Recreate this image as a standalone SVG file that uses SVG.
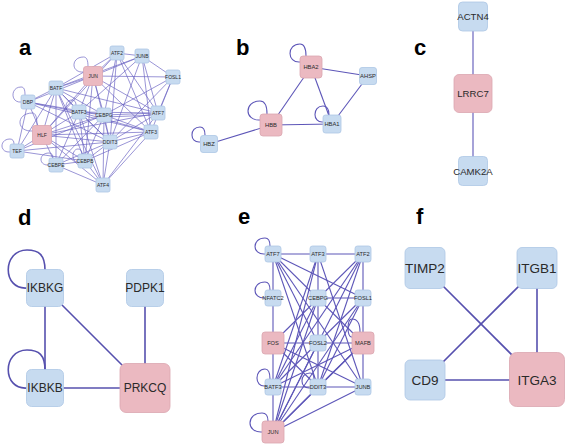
<svg xmlns="http://www.w3.org/2000/svg" width="567" height="445" viewBox="0 0 567 445">
<style>
.nb{fill:#c7dbf0;stroke:#adc6e4;stroke-width:0.8}
.np{fill:#ebb9c1;stroke:#dba6b0;stroke-width:0.8}
.ea line,.ea path{stroke:#6a62c2;stroke-width:0.8;fill:none;stroke-opacity:0.85}
.eb line,.eb path{stroke:#5d56b8;stroke-width:1.1;fill:none}
.ed line,.ed path{stroke:#5650ae;stroke-width:1.6;fill:none}
text{font-family:"Liberation Sans",Arial,sans-serif;fill:#2a2a2a;text-anchor:middle}
.lab{font-weight:bold;font-size:22px;fill:#000;text-anchor:start}
.ta{font-size:5px}
.tb{font-size:5.8px}
.tc{font-size:9.6px}
.td{font-size:12px}
.te{font-size:5.7px}
.tf{font-size:13.5px}
</style>
<text class="lab" x="19" y="55">a</text>
<text class="lab" x="236" y="55">b</text>
<text class="lab" x="414" y="55">c</text>
<text class="lab" x="18" y="225">d</text>
<text class="lab" x="238" y="224">e</text>
<text class="lab" x="416" y="224">f</text>
<g id="connectors">
<g class="ea" id="edges-a">
<line x1="93" y1="76" x2="117" y2="53"/><line x1="93" y1="76" x2="142" y2="56"/><line x1="93" y1="76" x2="173" y2="77"/><line x1="93" y1="76" x2="56" y2="88"/><line x1="93" y1="76" x2="28" y2="102"/><line x1="93" y1="76" x2="42" y2="135"/><line x1="93" y1="76" x2="158" y2="113"/><line x1="93" y1="76" x2="151" y2="132"/><line x1="93" y1="76" x2="110" y2="142"/><line x1="93" y1="76" x2="104" y2="115"/><line x1="93" y1="76" x2="79" y2="112"/><line x1="93" y1="76" x2="85" y2="161"/>
<line x1="117" y1="53" x2="142" y2="56"/><line x1="117" y1="53" x2="158" y2="113"/><line x1="117" y1="53" x2="151" y2="132"/><line x1="117" y1="53" x2="110" y2="142"/><line x1="117" y1="53" x2="56" y2="88"/><line x1="117" y1="53" x2="104" y2="115"/><line x1="117" y1="53" x2="42" y2="135"/>
<line x1="142" y1="56" x2="173" y2="77"/><line x1="142" y1="56" x2="158" y2="113"/><line x1="142" y1="56" x2="151" y2="132"/><line x1="142" y1="56" x2="110" y2="142"/><line x1="142" y1="56" x2="56" y2="88"/><line x1="142" y1="56" x2="79" y2="112"/>
<line x1="173" y1="77" x2="151" y2="132"/><line x1="173" y1="77" x2="110" y2="142"/><line x1="173" y1="77" x2="104" y2="115"/><line x1="173" y1="77" x2="158" y2="113"/>
<line x1="56" y1="88" x2="28" y2="102"/><line x1="56" y1="88" x2="42" y2="135"/><line x1="56" y1="88" x2="17" y2="151"/><line x1="56" y1="88" x2="79" y2="112"/><line x1="56" y1="88" x2="104" y2="115"/><line x1="56" y1="88" x2="158" y2="113"/><line x1="56" y1="88" x2="110" y2="142"/><line x1="56" y1="88" x2="56" y2="165"/><line x1="56" y1="88" x2="85" y2="161"/><line x1="56" y1="88" x2="103" y2="185"/>
<line x1="28" y1="102" x2="42" y2="135"/><line x1="28" y1="102" x2="17" y2="151"/><line x1="28" y1="102" x2="79" y2="112"/><line x1="28" y1="102" x2="104" y2="115"/><line x1="28" y1="102" x2="110" y2="142"/><line x1="28" y1="102" x2="151" y2="132"/>
<line x1="79" y1="112" x2="104" y2="115"/><line x1="79" y1="112" x2="158" y2="113"/><line x1="79" y1="112" x2="42" y2="135"/><line x1="79" y1="112" x2="110" y2="142"/><line x1="79" y1="112" x2="56" y2="165"/><line x1="79" y1="112" x2="85" y2="161"/><line x1="79" y1="112" x2="103" y2="185"/><line x1="79" y1="112" x2="151" y2="132"/>
<line x1="104" y1="115" x2="158" y2="113"/><line x1="104" y1="117" x2="158" y2="115"/><line x1="104" y1="115" x2="151" y2="132"/><line x1="104" y1="115" x2="110" y2="142"/><line x1="104" y1="115" x2="42" y2="135"/><line x1="104" y1="115" x2="56" y2="165"/><line x1="104" y1="115" x2="85" y2="161"/><line x1="104" y1="115" x2="103" y2="185"/><line x1="104" y1="115" x2="17" y2="151"/>
<line x1="158" y1="113" x2="110" y2="142"/><line x1="158" y1="113" x2="103" y2="185"/><line x1="158" y1="113" x2="42" y2="135"/>
<line x1="151" y1="132" x2="110" y2="142"/><line x1="151" y1="132" x2="103" y2="185"/><line x1="151" y1="132" x2="42" y2="135"/><line x1="151" y1="132" x2="85" y2="161"/>
<line x1="42" y1="135" x2="17" y2="151"/><line x1="42" y1="135" x2="110" y2="142"/><line x1="42" y1="135" x2="56" y2="165"/><line x1="42" y1="135" x2="85" y2="161"/><line x1="42" y1="135" x2="103" y2="185"/>
<line x1="110" y1="142" x2="17" y2="151"/><line x1="110" y1="142" x2="56" y2="165"/><line x1="110" y1="142" x2="85" y2="161"/><line x1="110" y1="142" x2="103" y2="185"/>
<line x1="56" y1="165" x2="103" y2="185"/><line x1="85" y1="161" x2="103" y2="185"/><line x1="56" y1="165" x2="85" y2="161"/><line x1="17" y1="151" x2="85" y2="161"/>
<path d="M83.5,72 C70.8,73 70.8,57 83.5,57 C86.6,57 88,60 88,66.5"/>
<path d="M21,102 C10.3,103 10.3,87 21,87 C23.8,87 25,89 25,95"/>
<path d="M32.5,131 C15.8,132 15.8,113 32.5,113 C35.6,113 37,117 37,125.5"/>
<path d="M10,152 C-0.7,153 -0.7,139 10,139 C12.8,139 14,141 14,144"/>
<path d="M49,165 C38.3,166 38.3,153 49,153 C51.8,153 53,155 53,158"/>
<path d="M78,162 C71.3,163 71.3,149 78,149 C80.8,149 82,151 82,154"/>
<path d="M72,112 C64,113 64,100 72,100 C74.8,100 76,102 76,105"/>
</g>
<g class="eb" id="edges-b">
<line x1="311" y1="67" x2="368" y2="76"/>
<line x1="311" y1="67" x2="271" y2="125"/>
<line x1="311" y1="67" x2="332" y2="124"/>
<line x1="368" y1="76" x2="332" y2="124"/>
<line x1="271" y1="125" x2="332" y2="124"/>
<line x1="271" y1="125" x2="209" y2="144"/>
<path d="M300,62 C286.7,63 286.7,44 300,44 C304.2,44 306,48 306,56"/>
<path d="M260,120 C244,121 244,101 260,101 C264.9,101 267,105 267,114"/>
<path d="M323,122 C312.3,123 312.3,106 323,106 C327.2,106 329,109 329,115"/>
<path d="M200,142 C189.3,143 189.3,127 200,127 C203.5,127 205,130 205,135"/>
</g>
<g class="eb" id="edges-c">
<line x1="473" y1="16" x2="473" y2="93"/>
<line x1="473" y1="93" x2="473" y2="171"/>
</g>
<g class="ed" id="edges-d">
<line x1="45" y1="288" x2="45" y2="388"/>
<line x1="45" y1="288" x2="145" y2="388"/>
<line x1="145" y1="288" x2="145" y2="388"/>
<line x1="45" y1="388" x2="145" y2="388"/>
<path d="M27,288 C2,290 2,250 27,250 C39,250 45,255 45,270"/>
<path d="M27,388 C2,390 2,350 27,350 C39,350 45,355 45,370"/>
</g>
<g class="eb" id="edges-e">
<line x1="273" y1="254" x2="363" y2="254"/>
<line x1="273" y1="254" x2="273" y2="432"/>
<line x1="318" y1="254" x2="318" y2="387"/>
<line x1="363" y1="254" x2="363" y2="387"/>
<line x1="318" y1="298" x2="363" y2="298"/>
<line x1="273" y1="343" x2="363" y2="343"/>
<line x1="273" y1="387" x2="363" y2="387"/>
<line x1="273" y1="254" x2="363" y2="298"/>
<line x1="273" y1="254" x2="318" y2="343"/>
<line x1="273" y1="254" x2="363" y2="343"/>
<line x1="273" y1="254" x2="318" y2="387"/>
<line x1="273" y1="254" x2="363" y2="387"/>
<line x1="318" y1="254" x2="273" y2="387"/>
<line x1="318" y1="254" x2="273" y2="432"/>
<line x1="318" y1="254" x2="363" y2="387"/>
<line x1="363" y1="254" x2="273" y2="343"/>
<line x1="363" y1="254" x2="273" y2="387"/>
<line x1="363" y1="254" x2="273" y2="432"/>
<line x1="363" y1="254" x2="318" y2="387"/>
<line x1="363" y1="298" x2="273" y2="387"/>
<line x1="363" y1="298" x2="273" y2="432"/>
<line x1="363" y1="298" x2="318" y2="387"/>
<line x1="363" y1="343" x2="273" y2="432"/>
<line x1="363" y1="343" x2="318" y2="387"/>
<line x1="363" y1="343" x2="273" y2="387"/>
<line x1="273" y1="343" x2="363" y2="387"/>
<line x1="273" y1="343" x2="318" y2="387"/>
<line x1="273" y1="432" x2="363" y2="387"/>
<line x1="318" y1="298" x2="273" y2="432"/>
<line x1="318" y1="298" x2="273" y2="387"/>
<line x1="318" y1="343" x2="273" y2="432"/>
<line x1="318" y1="387" x2="273" y2="432"/>
<path d="M265,254 C251.7,255 251.7,238 265,238 C268.5,238 270,241 270,246"/>
<path d="M265,298 C251.7,299 251.7,282 265,282 C268.5,282 270,285 270,290"/>
<path d="M265,386 C254.3,387 254.3,369 265,369 C268.5,369 270,372 270,379"/>
<path d="M262,432 C246,433 246,413 262,413 C266.2,413 268,416 268,421"/>
<path d="M310,388 C299.3,389 299.3,373 310,373 C312.8,373 314,375 314,379"/>
<path d="M352,337 C346.7,338 346.7,319 352,319 C357.6,319 360,323 360,332"/>
</g>
<g class="ed" id="edges-f">
<line x1="425" y1="268" x2="537" y2="380"/>
<line x1="537" y1="268" x2="425" y2="380"/>
<line x1="537" y1="268" x2="537" y2="380"/>
<line x1="425" y1="380" x2="537" y2="380"/>
</g>
</g>
<g id="nodes-a">
<g id="a-ATF2"><rect class="nb" x="110" y="46" width="14" height="14" rx="2"/><text class="ta" x="117" y="54.8">ATF2</text></g>
<g id="a-JUNB"><rect class="nb" x="135" y="49" width="14" height="14" rx="2"/><text class="ta" x="142" y="57.8">JUNB</text></g>
<g id="a-JUN"><rect class="np" x="83.5" y="66.5" width="19" height="19" rx="2.5"/><text class="ta" x="93" y="77.8">JUN</text></g>
<g id="a-FOSL1"><rect class="nb" x="166" y="70" width="14" height="14" rx="2"/><text class="ta" x="173" y="78.8">FOSL1</text></g>
<g id="a-BATF"><rect class="nb" x="49" y="81" width="14" height="14" rx="2"/><text class="ta" x="56" y="89.8">BATF</text></g>
<g id="a-DBP"><rect class="nb" x="21" y="95" width="14" height="14" rx="2"/><text class="ta" x="28" y="103.8">DBP</text></g>
<g id="a-BATF3"><rect class="nb" x="72" y="105" width="14" height="14" rx="2"/><text class="ta" x="79" y="113.8">BATF3</text></g>
<g id="a-CEBPG"><rect class="nb" x="97" y="108" width="14" height="14" rx="2"/><text class="ta" x="104" y="116.8">CEBPG</text></g>
<g id="a-ATF7"><rect class="nb" x="151" y="106" width="14" height="14" rx="2"/><text class="ta" x="158" y="114.8">ATF7</text></g>
<g id="a-HLF"><rect class="np" x="32.5" y="125.5" width="19" height="19" rx="2.5"/><text class="ta" x="42" y="136.8">HLF</text></g>
<g id="a-ATF3"><rect class="nb" x="144" y="125" width="14" height="14" rx="2"/><text class="ta" x="151" y="133.8">ATF3</text></g>
<g id="a-DDIT3"><rect class="nb" x="103" y="135" width="14" height="14" rx="2"/><text class="ta" x="110" y="143.8">DDIT3</text></g>
<g id="a-TEF"><rect class="nb" x="10" y="144" width="14" height="14" rx="2"/><text class="ta" x="17" y="152.8">TEF</text></g>
<g id="a-CEBPE"><rect class="nb" x="49" y="158" width="14" height="14" rx="2"/><text class="ta" x="56" y="166.8">CEBPE</text></g>
<g id="a-CEBPB"><rect class="nb" x="78" y="154" width="14" height="14" rx="2"/><text class="ta" x="85" y="162.8">CEBPB</text></g>
<g id="a-ATF4"><rect class="nb" x="96" y="178" width="14" height="14" rx="2"/><text class="ta" x="103" y="186.8">ATF4</text></g>
</g>
<g id="nodes-b">
<g id="b-HBA2"><rect class="np" x="300" y="56" width="22" height="22" rx="3"/><text class="tb" x="311" y="69">HBA2</text></g>
<g id="b-AHSP"><rect class="nb" x="359.5" y="67.5" width="17" height="17" rx="2.5"/><text class="tb" x="368" y="78">AHSP</text></g>
<g id="b-HBB"><rect class="np" x="260" y="114" width="22" height="22" rx="3"/><text class="tb" x="271" y="127">HBB</text></g>
<g id="b-HBA1"><rect class="nb" x="323" y="115" width="18" height="18" rx="2.5"/><text class="tb" x="332" y="126">HBA1</text></g>
<g id="b-HBZ"><rect class="nb" x="200.5" y="135.5" width="17" height="17" rx="2.5"/><text class="tb" x="209" y="146">HBZ</text></g>
</g>
<g id="nodes-c">
<g id="c-ACTN4"><rect class="nb" x="458.5" y="2" width="29" height="29" rx="4"/><text class="tc" x="473" y="20">ACTN4</text></g>
<g id="c-LRRC7"><rect class="np" x="454" y="74.5" width="38" height="38" rx="5"/><text class="tc" x="473" y="97">LRRC7</text></g>
<g id="c-CAMK2A"><rect class="nb" x="458.5" y="156.5" width="29" height="29" rx="4"/><text class="tc" x="473" y="174.5">CAMK2A</text></g>
</g>
<g id="nodes-d">
<g id="d-IKBKG"><rect class="nb" x="26.5" y="269.5" width="37" height="37" rx="5"/><text class="td" x="45" y="292.2">IKBKG</text></g>
<g id="d-PDPK1"><rect class="nb" x="126.5" y="269.5" width="37" height="37" rx="5"/><text class="td" x="145" y="292.2">PDPK1</text></g>
<g id="d-IKBKB"><rect class="nb" x="26.5" y="369.5" width="37" height="37" rx="5"/><text class="td" x="45" y="392.2">IKBKB</text></g>
<g id="d-PRKCQ"><rect class="np" x="120" y="363.5" width="50" height="49" rx="6"/><text class="td" x="145" y="392.2">PRKCQ</text></g>
</g>
<g id="nodes-e">
<g id="e-ATF7"><rect class="nb" x="265" y="246" width="16" height="16" rx="2.5"/><text class="te" x="273" y="256">ATF7</text></g>
<g id="e-ATF3"><rect class="nb" x="310" y="246" width="16" height="16" rx="2.5"/><text class="te" x="318" y="256">ATF3</text></g>
<g id="e-ATF2"><rect class="nb" x="355" y="246" width="16" height="16" rx="2.5"/><text class="te" x="363" y="256">ATF2</text></g>
<g id="e-NFATC2"><rect class="nb" x="265" y="290" width="16" height="16" rx="2.5"/><text class="te" x="273" y="300">NFATC2</text></g>
<g id="e-CEBPG"><rect class="nb" x="310" y="290" width="16" height="16" rx="2.5"/><text class="te" x="318" y="300">CEBPG</text></g>
<g id="e-FOSL1"><rect class="nb" x="355" y="290" width="16" height="16" rx="2.5"/><text class="te" x="363" y="300">FOSL1</text></g>
<g id="e-FOS"><rect class="np" x="262" y="332" width="22" height="22" rx="3"/><text class="te" x="273" y="345">FOS</text></g>
<g id="e-FOSL2"><rect class="nb" x="310" y="335" width="16" height="16" rx="2.5"/><text class="te" x="318" y="345">FOSL2</text></g>
<g id="e-MAFB"><rect class="np" x="352" y="332" width="22" height="22" rx="3"/><text class="te" x="363" y="345">MAFB</text></g>
<g id="e-BATF3"><rect class="nb" x="265" y="379" width="16" height="16" rx="2.5"/><text class="te" x="273" y="389">BATF3</text></g>
<g id="e-DDIT3"><rect class="nb" x="310" y="379" width="16" height="16" rx="2.5"/><text class="te" x="318" y="389">DDIT3</text></g>
<g id="e-JUNB"><rect class="nb" x="355" y="379" width="16" height="16" rx="2.5"/><text class="te" x="363" y="389">JUNB</text></g>
<g id="e-JUN"><rect class="np" x="262" y="421" width="22" height="22" rx="3"/><text class="te" x="273" y="434">JUN</text></g>
</g>
<g id="nodes-f">
<g id="f-TIMP2"><rect class="nb" x="405" y="247.5" width="40" height="41" rx="5"/><text class="tf" x="425" y="272.7">TIMP2</text></g>
<g id="f-ITGB1"><rect class="nb" x="517" y="247.5" width="40" height="41" rx="5"/><text class="tf" x="537" y="272.7">ITGB1</text></g>
<g id="f-CD9"><rect class="nb" x="405" y="360" width="40" height="40" rx="5"/><text class="tf" x="425" y="384.7">CD9</text></g>
<g id="f-ITGA3"><rect class="np" x="509.5" y="352.5" width="55" height="54" rx="7"/><text class="tf" x="537" y="384.7">ITGA3</text></g>
</g>
</svg>
